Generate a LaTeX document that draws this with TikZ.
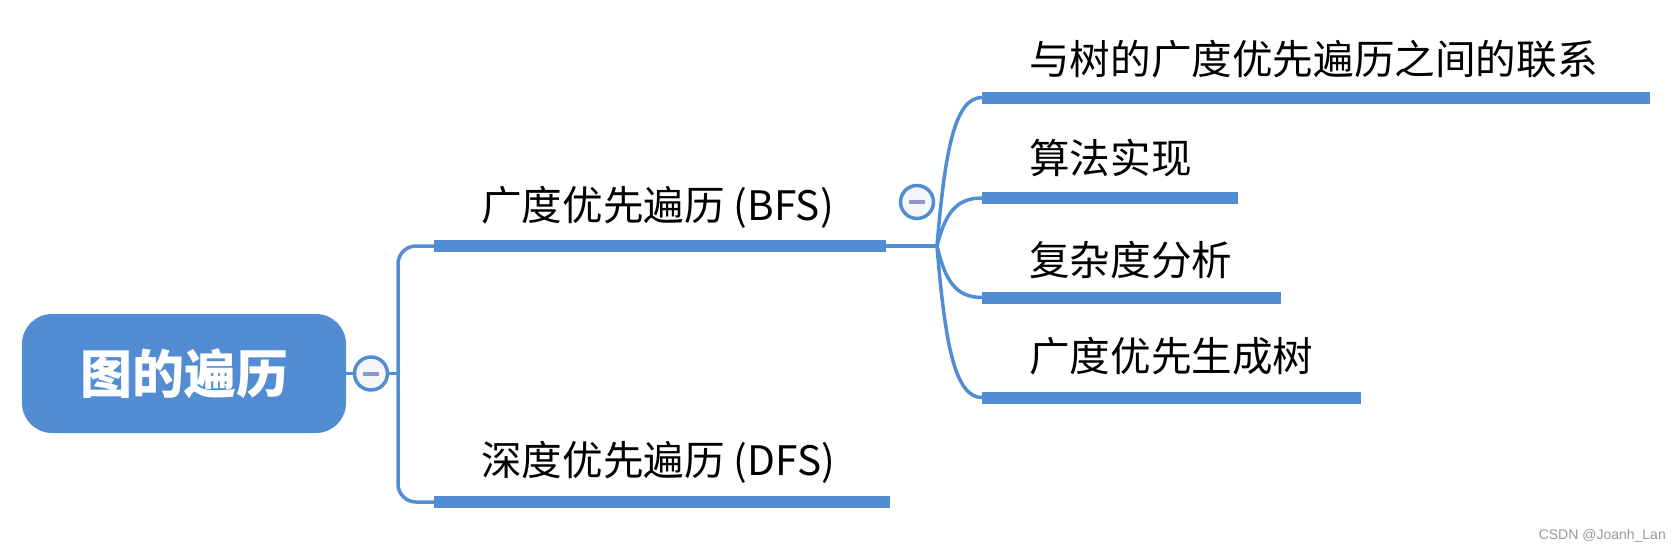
\documentclass[tikz,border=0pt]{standalone}
\usepackage{fontspec}
\setmainfont{Noto Sans CJK SC}
\newfontfamily\markfont{Liberation Sans}
\usetikzlibrary{calc}
\definecolor{mapblue}{RGB}{82,141,212}
\definecolor{knobfill}{RGB}{246,246,250}
\definecolor{knobdash}{RGB}{142,152,198}
\definecolor{markgray}{RGB}{153,153,153}

\begin{document}
\begin{tikzpicture}[x=1pt,y=-1pt,
    bar/.style={fill=mapblue,inner sep=0pt,minimum height=12pt,anchor=west},
    topictext/.style={anchor=west,inner sep=0pt,font=\fontsize{40.6}{46}\selectfont},
    link/.style={draw=mapblue,line width=3.5pt},
    knob/.style={circle,draw=mapblue,line width=3.5pt,fill=knobfill,minimum size=33pt,inner sep=0pt},
    fork/.style={to path={.. controls ($(\tikztostart)!0.65!(\tikztostart |- \tikztotarget)+(8,0)$) and ($(\tikztostart |- \tikztotarget)+(18,0)$) .. (\tikztotarget)}}]
    \useasboundingbox (0,0) rectangle (1680,552);
    \node[fill=mapblue,rounded corners=30pt,minimum width=324pt,minimum height=119pt,inner sep=0pt,text=white,font=\fontsize{52}{58}\selectfont\bfseries] (root) at (184,373.5) {图的遍历};
    \node[knob] (rootknob) at (371,373.5) {\textcolor{knobdash}{\rule{16pt}{4pt}}};
    \coordinate (spine) at (398,373.5);
    \node[bar,minimum width=452pt] (bfsbar) at (434,246) {};
    \node[bar,minimum width=456pt] (dfsbar) at (434,502) {};
    \node[topictext] (bfs) at (481,207) {广度优先遍历 (BFS)};
    \node[topictext] (dfs) at (481,462.5) {深度优先遍历 (DFS)};
    \coordinate (hub) at (937,246);
    \node[bar,minimum width=668pt] (tiebar) at (982,97.5) {};
    \node[bar,minimum width=256pt] (algbar) at (982,198) {};
    \node[bar,minimum width=299pt] (costbar) at (982,297.5) {};
    \node[bar,minimum width=379pt] (treebar) at (982,397.5) {};
    \node[topictext] (tie) at (1029,59) {与树的广度优先遍历之间的联系};
    \node[topictext] (alg) at (1029,158) {算法实现};
    \node[topictext] (cost) at (1029,260) {复杂度分析};
    \node[topictext] (tree) at (1029,356.5) {广度优先生成树};
    \draw[link] (root.east) -- (rootknob.west);
    \draw[link] (rootknob.east) -- (spine);
    \draw[link,rounded corners=18pt] (bfsbar.west) -| (spine) |- (dfsbar.west);
    \draw[link] (bfsbar.east) -- (hub);
    \draw[link] (hub) to[fork] (tiebar.west);
    \draw[link] (hub) to[fork] (algbar.west);
    \draw[link] (hub) to[fork] (costbar.west);
    \draw[link] (hub) to[fork] (treebar.west);
    \node[knob] (bfsknob) at (917,202) {\textcolor{knobdash}{\rule{16pt}{4pt}}};
    \node[anchor=east,inner sep=0pt,text=markgray,font=\markfont\fontsize{14}{16}\selectfont] (mark) at (1666,536) {CSDN @Joanh\_Lan};
\end{tikzpicture}
\end{document}
